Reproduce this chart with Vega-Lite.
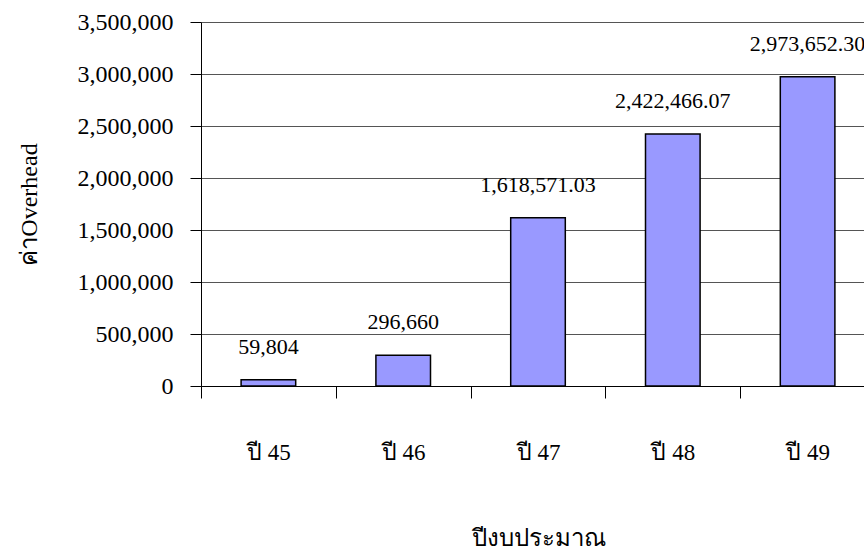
{
  "$schema": "https://vega.github.io/schema/vega-lite/v6.json",
  "autosize": {"type": "none"},
  "padding": {"left": 201, "top": 22, "right": 0, "bottom": 168},
  "width": 663,
  "height": 364,
  "background": "white",
  "config": {
    "view": {"stroke": null},
    "font": "Liberation Serif",
    "axis": {"labelFont": "Liberation Serif", "titleFont": "Liberation Serif", "labelColor": "black", "titleColor": "black", "titleFontWeight": "normal"}
  },
  "data": {
    "values": [
      {"year": "ปี 45", "overhead": 59804, "label": "59,804"},
      {"year": "ปี 46", "overhead": 296660, "label": "296,660"},
      {"year": "ปี 47", "overhead": 1618571.03, "label": "1,618,571.03"},
      {"year": "ปี 48", "overhead": 2422466.07, "label": "2,422,466.07"},
      {"year": "ปี 49", "overhead": 2973652.30, "label": "2,973,652.30"}
    ]
  },
  "encoding": {
    "x": {
      "field": "year",
      "type": "nominal",
      "sort": null,
      "scale": {"range": [0, 674], "paddingInner": 0, "paddingOuter": 0},
      "axis": {
        "title": "ปีงบประมาณ",
        "titleFontSize": 24,
        "titlePadding": 62,
        "labelAngle": 0,
        "labelFontSize": 23,
        "labelPadding": 43,
        "tickBand": "extent",
        "tickSize": 12,
        "tickColor": "black",
        "domainColor": "black",
        "domainWidth": 1,
        "grid": false
      }
    },
    "y": {
      "field": "overhead",
      "type": "quantitative",
      "scale": {"domain": [0, 3500000], "nice": false},
      "axis": {
        "title": "ค่าOverhead",
        "titleFontSize": 24,
        "titlePadding": 36,
        "values": [0, 500000, 1000000, 1500000, 2000000, 2500000, 3000000, 3500000],
        "format": ",d",
        "labelFontSize": 24,
        "labelPadding": 17,
        "tickSize": 11,
        "tickColor": "black",
        "domainColor": "black",
        "grid": true,
        "gridColor": "#555555",
        "gridWidth": 1,
        "gridOpacity": 1
      }
    }
  },
  "layer": [
    {
      "mark": {"type": "bar", "fill": "#9999FF", "stroke": "black", "strokeWidth": 1.5, "width": {"band": 0.405}}
    },
    {
      "mark": {"type": "text", "baseline": "alphabetic", "dy": -26, "fontSize": 22, "font": "Liberation Serif", "color": "black"},
      "encoding": {"text": {"field": "label"}}
    }
  ]
}
